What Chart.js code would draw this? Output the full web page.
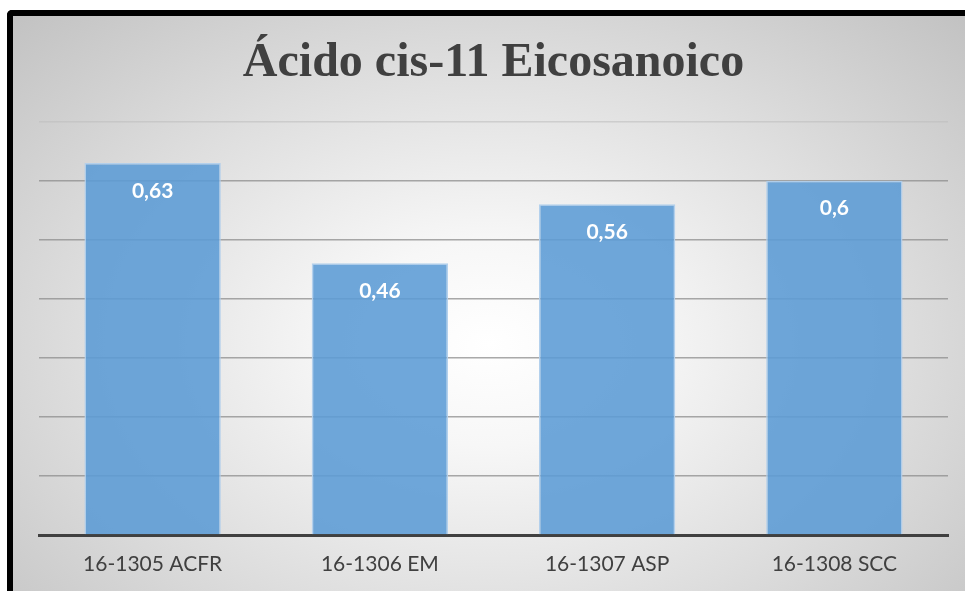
<!DOCTYPE html>
<html>
<head>
<meta charset="utf-8">
<script src="https://cdn.jsdelivr.net/npm/chart.js@4/dist/chart.umd.min.js"></script>
<style>
  html, body { margin: 0; padding: 0; background: #ffffff; width: 965px; height: 591px; overflow: hidden; }
  #frame {
    position: absolute; left: 7px; top: 10px;
    width: 952px; height: 575px;
    border-left: 6px solid #000; border-top: 6px solid #000;
    border-top-left-radius: 5px;
    background: radial-gradient(ellipse farthest-corner at 50% 57%, #ffffff 0%, #f7f7f7 22%, #dedede 60%, #c2c2c2 100%);
  }
  #chart { display: block; }
</style>
</head>
<body>
<div id="frame"><canvas id="chart" width="952" height="575"></canvas></div>
<script>
// Muestras analizadas y contenido de ácido cis-11 eicosanoico
const categories = ['16-1305 ACFR', '16-1306 EM', '16-1307 ASP', '16-1308 SCC'];
const values = [0.63, 0.46, 0.56, 0.6];
const titleText = 'Ácido cis-11 Eicosanoico';

// Etiquetas de valor dentro de cada barra, con coma decimal
const barValueLabels = {
  id: 'barValueLabels',
  afterDatasetsDraw(chart) {
    const ctx = chart.ctx;
    const meta = chart.getDatasetMeta(0);
    ctx.save();
    ctx.fillStyle = '#ffffff';
    ctx.font = 'bold 21px Lato, "Open Sans", sans-serif';
    ctx.textAlign = 'center';
    ctx.textBaseline = 'middle';
    meta.data.forEach((bar, i) => {
      const txt = String(chart.data.datasets[0].data[i]).replace('.', ',');
      ctx.fillText(txt, bar.x, bar.y + 28);
    });
    ctx.restore();
  }
};

new Chart(document.getElementById('chart'), {
  type: 'bar',
  data: {
    labels: categories,
    datasets: [{
      data: values,
      backgroundColor: 'rgba(91,155,213,0.88)',
      borderColor: 'rgba(176,207,236,0.95)',
      borderWidth: 1.5,
      categoryPercentage: 0.6,
      barPercentage: 1.0
    }]
  },
  options: {
    responsive: false,
    animation: false,
    layout: { padding: { left: 26, right: 17, top: 0, bottom: 5 } },
    plugins: {
      legend: { display: false },
      tooltip: { enabled: false },
      title: {
        display: true,
        text: titleText,
        color: '#404040',
        font: { family: '"Liberation Serif", "Times New Roman", serif', size: 48, weight: 'bold', lineHeight: 1.2 },
        padding: { top: 19, bottom: 29 }
      }
    },
    scales: {
      x: {
        grid: { display: false },
        border: { display: true, color: '#404040', width: 3 },
        ticks: {
          color: '#404040',
          padding: 11,
          font: { family: 'Lato, "Open Sans", sans-serif', size: 21, lineHeight: 1 }
        }
      },
      y: {
        min: 0,
        max: 0.7,
        ticks: { display: false, stepSize: 0.1 },
        border: { display: false },
        grid: {
          drawTicks: false,
          lineWidth: 1.5,
          color: (c) => c.index === 7 ? 'rgba(190,190,190,0.6)' : 'rgba(140,140,140,0.75)'
        }
      }
    }
  },
  plugins: [barValueLabels]
});
</script>
</body>
</html>
